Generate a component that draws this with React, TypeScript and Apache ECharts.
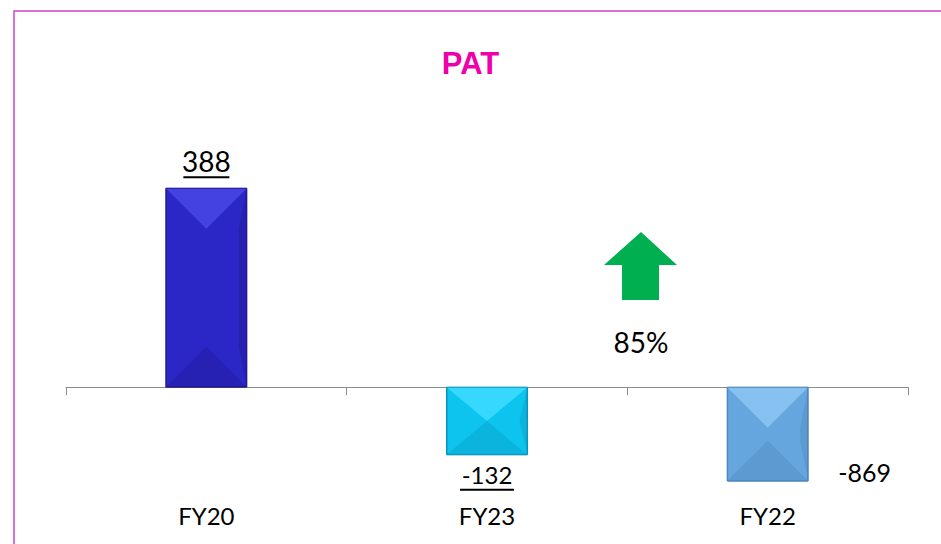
import React, { useEffect, useRef } from "react";
import * as echarts from "echarts";

const categories = ["FY20", "FY23", "FY22"];
const patValues = [388, -132, -869];
const growthText = "85%";
const titleText = "PAT";

const baseColors = ["#2B26C6", "#0DC4EE", "#66A6DF"];
const lightColors = ["#4A48E6", "#3EDCFF", "#8CC6F4"];
const darkColors = ["#1C178F", "#0897BC", "#4C83BA"];

const Y_MIN = -183;
const Y_MAX = 560;

export default function App() {
  const ref = useRef<HTMLDivElement>(null);
  useEffect(() => {
    document.body.style.margin = "0";
    const chart = echarts.init(ref.current!, null, { renderer: "svg" });
    const underlineW = [46, 54, 0];
    const option: any = {
      animation: false,
      backgroundColor: "#fff",
      title: {
        text: titleText,
        left: "center",
        top: 43,
        textStyle: { color: "#EE00AA", fontSize: 31, fontWeight: "bold", fontFamily: "Liberation Sans" },
      },
      grid: { left: 66, right: 33, top: 100, bottom: 63, containLabel: false, outerBoundsMode: "none" },
      xAxis: [
        {
          type: "category",
          data: categories,
          axisLine: { onZero: true, lineStyle: { color: "#8C8C8C", width: 1 } },
          axisTick: { show: true, length: 8, lineStyle: { color: "#8C8C8C" } },
          axisLabel: { show: false },
        },
        {
          type: "category",
          data: categories,
          position: "bottom",
          axisLine: { show: false, onZero: false },
          axisTick: { show: false },
          axisLabel: { margin: 22, fontSize: 24, color: "#000", fontFamily: "Lato" },
        },
      ],
      yAxis: {
        type: "value",
        min: Y_MIN,
        max: Y_MAX,
        show: false,
        splitLine: { show: false },
      },
      series: [
        {
          type: "bar",
          barWidth: 81,
          clip: true,
          z: 2,
          xAxisIndex: 0,
          data: patValues.map((v, i) => {
            const under = underlineW[i] > 0;
            return {
              value: v,
              itemStyle: {
                color: baseColors[i],
                borderColor: darkColors[i],
                borderWidth: 1,
              },
              label: {
                show: true,
                position: i === 0 ? "top" : i === 1 ? "bottom" : "right",
                distance: i === 2 ? 30 : i === 0 ? 10 : 6,
                offset: i === 2 ? [0, 38] : [0, 0],
                formatter: under ? `{n|${v}}\n{u|}` : `{n|${v}}`,
                rich: {
                  n: {
                    fontSize: i === 0 ? 28 : i === 1 ? 24 : 25,
                    fontFamily: "Lato",
                    color: "#000",
                    lineHeight: i === 0 ? 30 : 28,
                    align: "center",
                  },
                  u: {
                    width: underlineW[i],
                    height: 2,
                    lineHeight: 2,
                    backgroundColor: "#000",
                    align: "center",
                  },
                },
              },
            };
          }),
        },
        {
          type: "custom",
          z: 3,
          silent: true,
          xAxisIndex: 0,
          data: patValues.map((v, i) => [i, v]),
          renderItem: (params: any, api: any) => {
            const idx = api.value(0);
            const val = Math.max(Y_MIN, Math.min(Y_MAX, api.value(1)));
            const p0 = api.coord([idx, 0]);
            const p1 = api.coord([idx, val]);
            const w = 81;
            const x0 = p0[0] - w / 2;
            const x1 = p0[0] + w / 2;
            const yt = Math.min(p0[1], p1[1]);
            const yb = Math.max(p0[1], p1[1]);
            const h = yb - yt;
            const d = Math.min(w / 2, h / 2);
            const cx = p0[0];
            const i = params.dataIndex;
            return {
              type: "group",
              children: [
                {
                  type: "polygon",
                  shape: { points: [[x0, yt], [x1, yt], [cx, yt + d]] },
                  style: { fill: lightColors[i], opacity: 0.85 },
                },
                {
                  type: "polygon",
                  shape: { points: [[x0, yb], [x1, yb], [cx, yb - d]] },
                  style: { fill: darkColors[i], opacity: 0.35 },
                },
                {
                  type: "polygon",
                  shape: { points: [[x1, yt], [x1, yb], [x1 - Math.min(8, w / 2), yb - d], [x1 - Math.min(8, w / 2), yt + d]] },
                  style: { fill: darkColors[i], opacity: 0.35 },
                },
                {
                  type: "rect",
                  shape: { x: x0, y: yt, width: w, height: h },
                  style: { fill: "none", stroke: darkColors[i], lineWidth: 1 },
                },
              ],
            };
          },
        },
      ],
      graphic: [
        {
          type: "rect",
          shape: { x: 14, y: 11, width: 960, height: 560 },
          style: { fill: "none", stroke: "#D040D0", lineWidth: 1.5 },
          z: 10,
        },
        {
          type: "polygon",
          shape: {
            points: [
              [641, 232], [677, 265], [659, 265], [659, 300], [622, 300], [622, 265], [604, 265],
            ],
          },
          style: { fill: "#00B050" },
        },
        {
          type: "text",
          x: 641,
          y: 342,
          style: {
            text: growthText,
            fontSize: 28,
            fontFamily: "Lato",
            fill: "#000",
            textAlign: "center",
            textVerticalAlign: "middle",
          },
        },
      ],
    };
    chart.setOption(option);
    return () => chart.dispose();
  }, []);
  return <div ref={ref} style={{ width: 941, height: 544 }} />;
}
